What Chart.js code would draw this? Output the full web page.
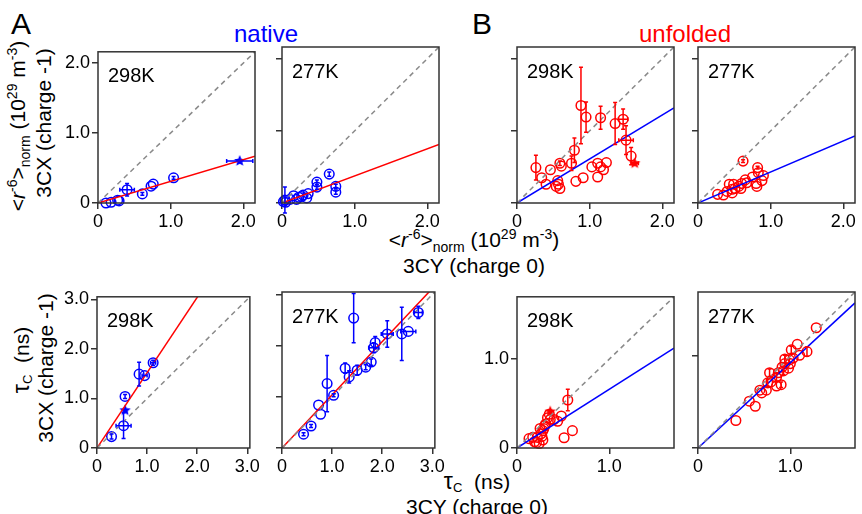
<!DOCTYPE html>
<html>
<head>
<meta charset="utf-8">
<script src="https://cdn.jsdelivr.net/npm/chart.js@4.4.1/dist/chart.umd.min.js"></script>
<style>
body{margin:0;width:862px;height:514px;background:#fff;position:relative;overflow:hidden;font-family:"Liberation Sans",Arial,sans-serif;}
canvas{position:absolute;}
.t{position:absolute;white-space:nowrap;font-size:21px;color:#000;line-height:1;transform:translate(-50%,-50%);}
.rot{transform:translate(-50%,-50%) rotate(-90deg);}
sup,sub{font-size:14px;line-height:0;}
.tau sub{font-size:13px;vertical-align:-3px;}
</style>
</head>
<body>
<div class="t" style="left:21px;top:24px;font-size:30px">A</div>
<div class="t" style="left:482px;top:24px;font-size:30px">B</div>
<div class="t" style="left:266px;top:34px;font-size:24px;color:#0000ff">native</div>
<div class="t" style="left:685px;top:34px;font-size:24px;color:#ff0000">unfolded</div>

<div class="t rot" style="left:17px;top:126px">&lt;<i>r</i><sup>-6</sup>&gt;<sub>norm</sub> (10<sup>29</sup> m<sup>-3</sup>)</div>
<div class="t rot" style="left:43px;top:123px">3CX (charge -1)</div>
<div class="t rot tau" style="left:21px;top:360px"><span style="font-size:23px">τ</span><sub>C</sub>&nbsp;&nbsp;(ns)</div>
<div class="t rot" style="left:45px;top:368px">3CX (charge -1)</div>

<div class="t" style="left:474px;top:239px">&lt;<i>r</i><sup>-6</sup>&gt;<sub>norm</sub> (10<sup>29</sup> m<sup>-3</sup>)</div>
<div class="t" style="left:474px;top:265px">3CY (charge 0)</div>
<div class="t tau" style="left:477px;top:481px"><span style="font-size:23px">τ</span><sub>C</sub>&nbsp;&nbsp;(ns)</div>
<div class="t" style="left:477px;top:506px">3CY (charge 0)</div>

<script>
// ranges and tick labels
const r6Max = 2.16, tauNatMax = 3.05, tauUnfMax = 1.7;
const r6Ticks = [0, 1, 2];
const tauNatTicks = [0, 1, 2, 3];
const tauUnfTicks = [0, 1];

// native 298K, <r-6>
const nat298RX = [0.11, 0.18, 0.27, 0.29, 0.40, 0.61, 0.73, 0.76, 1.04];
const nat298RY = [0.00, 0.01, 0.04, 0.03, 0.19, 0.13, 0.24, 0.27, 0.36];
const nat298RErr = [[4, 0.10, 0.09], [5, 0, 0.02], [8, 0, 0.02]];
const nat298RStar = [1.95, 0.60, 0.18, 0];
const nat298RSlope = 0.31;

// native 277K, <r-6>
const nat277RX = [0.65, 0.48, 0.48, 0.74, 0.74, 0.36, 0.29, 0.27, 0.34, 0.16, 0.11, 0.04, 0.02, 0.05, 0.20, 0.23];
const nat277RY = [0.40, 0.29, 0.22, 0.23, 0.15, 0.13, 0.11, 0.09, 0.07, 0.10, 0.05, 0.04, 0.02, 0.01, 0.05, 0.08];
const nat277RErr = [[11, 0, 0.18], [0, 0, 0.03], [1, 0, 0.03], [2, 0, 0.03], [3, 0, 0.03], [4, 0, 0.03]];
const nat277RSlope = 0.376;

// unfolded 298K, <r-6>
const unf298RX = [0.88, 0.95, 1.15, 1.46, 1.35, 1.50, 1.57, 0.79, 0.75, 0.59, 0.61, 0.46, 0.26, 0.34, 0.40, 0.56, 0.57, 0.54, 0.59, 0.81, 0.91, 1.03, 1.11, 1.15, 1.23, 1.19, 1.11];
const unf298RY = [1.35, 1.19, 1.18, 1.16, 1.10, 0.87, 0.65, 0.73, 0.55, 0.55, 0.51, 0.46, 0.49, 0.35, 0.26, 0.31, 0.26, 0.23, 0.20, 0.30, 0.35, 0.50, 0.55, 0.50, 0.56, 0.46, 0.36];
const unf298RErr = [[0, 0, 0.53], [1, 0, 0.21], [2, 0, 0.16], [3, 0.065, 0.14], [4, 0, 0.29], [5, 0.1, 0.2], [6, 0, 0.12], [7, 0, 0.17], [8, 0, 0.1], [12, 0, 0.17], [9, 0, 0.03]];
const unf298RStar = [1.62, 0.55, 0.05, 0];
const unf298RSlope = 0.61;

// unfolded 277K, <r-6>
const unf277RX = [0.62, 0.82, 0.75, 0.90, 0.83, 0.88, 0.80, 0.81, 0.67, 0.60, 0.56, 0.49, 0.43, 0.47, 0.51, 0.59, 0.40, 0.35, 0.27, 0.47, 0.65];
const unf277RY = [0.58, 0.49, 0.36, 0.38, 0.42, 0.31, 0.27, 0.23, 0.28, 0.27, 0.23, 0.26, 0.26, 0.19, 0.20, 0.20, 0.16, 0.11, 0.12, 0.14, 0.32];
const unf277RErr = [[0, 0, 0.02], [1, 0, 0.02]];
const unf277RSlope = 0.43;

// native 298K, tauC
const nat298TX = [0.29, 0.53, 0.56, 0.84, 0.95, 1.12];
const nat298TY = [0.23, 0.45, 1.04, 1.49, 1.46, 1.72];
const nat298TErr = [[1, 0.15, 0.26], [3, 0, 0.24], [0, 0, 0.05], [2, 0, 0.04], [4, 0.05, 0], [5, 0.05, 0.05]];
const nat298TStar = [0.56, 0.76, 0, 0];
const nat298TSlope = 1.52;

// native 277K, tauC
const nat277TX = [1.43, 0.43, 0.58, 0.73, 0.77, 0.90, 1.03, 1.26, 1.34, 1.50, 1.67, 1.78, 1.83, 1.86, 2.10, 2.39, 2.52, 2.72];
const nat277TY = [2.54, 0.27, 0.43, 0.84, 0.66, 1.26, 1.03, 1.56, 1.39, 1.52, 1.58, 1.68, 1.96, 2.06, 2.23, 2.23, 2.28, 2.65];
const nat277TErr = [[0, 0, 0.48], [5, 0, 0.55], [9, 0, 0.1], [7, 0, 0.1], [8, 0, 0.12], [12, 0.1, 0.1], [13, 0, 0.12], [14, 0.12, 0.26], [15, 0, 0.52], [16, 0.15, 0], [17, 0.08, 0.12], [10, 0, 0.05], [11, 0, 0.06], [1, 0, 0.03], [2, 0, 0.03], [6, 0, 0.03]];
const nat277TSlope = 1.04;

// unfolded 298K, tauC
const unf298TX = [0.55, 0.60, 0.51, 0.48, 0.44, 0.33, 0.36, 0.30, 0.28, 0.26, 0.22, 0.17, 0.13, 0.19, 0.24, 0.28, 0.31, 0.40, 0.29, 0.25, 0.35, 0.27, 0.21];
const unf298TY = [0.54, 0.195, 0.115, 0.36, 0.30, 0.34, 0.32, 0.25, 0.195, 0.16, 0.12, 0.12, 0.105, 0.07, 0.05, 0.09, 0.27, 0.32, 0.22, 0.22, 0.38, 0.13, 0.06];
const unf298TErr = [[0, 0, 0.12]];
const unf298TStar = [0.36, 0.41, 0, 0];
const unf298TSlope = 0.66;

// unfolded 277K, tauC
const unf277TX = [0.41, 0.556, 0.62, 0.67, 0.69, 0.74, 0.755, 0.775, 0.85, 0.85, 0.87, 0.90, 0.925, 0.91, 0.98, 0.94, 0.99, 1.03, 1.01, 1.075, 1.10, 1.18, 1.28, 0.79, 1.00, 0.94];
const unf277TY = [0.30, 0.51, 0.455, 0.63, 0.60, 0.63, 0.71, 0.82, 0.675, 0.77, 0.82, 0.69, 0.84, 0.88, 0.87, 0.97, 0.96, 0.98, 1.07, 1.13, 1.01, 1.05, 1.31, 0.72, 0.92, 0.92];
const unf277TErr = [[6, 0, 0.04], [7, 0, 0.04], [9, 0, 0.04], [12, 0, 0.04], [15, 0, 0.04], [18, 0, 0.04], [21, 0, 0.05], [11, 0, 0.03]];
const unf277TSlope = 0.93;

const BLUE = '#0000ff', RED = '#ff0000';
const PAD_L = 45, PAD_T = 8, PAD_R = 8, PAD_B = 30, BOX_W = 157, BOX_H = 156;
const tickFont = {family: '"Liberation Sans", Arial, sans-serif', size: 18};

function starImg(color, r) {
    const c = document.createElement('canvas');
    c.width = c.height = 2 * r + 2;
    const g = c.getContext('2d');
    g.beginPath();
    for (let k = 0; k < 10; k++) {
        const rr = k % 2 ? r * 0.45 : r;
        const a = -Math.PI / 2 + k * Math.PI / 5;
        g.lineTo(r + 1 + rr * Math.cos(a), r + 1 + rr * Math.sin(a));
    }
    g.closePath();
    g.fillStyle = color;
    g.fill();
    return c;
}

// error bars, drawn through the scales
const errBars = {
    id: 'errBars',
    afterDatasetsDraw(chart) {
        const {ctx, scales: {x, y}} = chart;
        chart.data.datasets.forEach(ds => {
            if (!ds.errs) return;
            ctx.save();
            ctx.strokeStyle = ds.errColor;
            ctx.lineWidth = 1.5;
            ds.errs.forEach(([i, ex, ey]) => {
                const p = ds.data[i];
                const px = x.getPixelForValue(p.x), py = y.getPixelForValue(p.y);
                ctx.beginPath();
                if (ey) {
                    const y1 = y.getPixelForValue(p.y - ey), y2 = y.getPixelForValue(p.y + ey);
                    ctx.moveTo(px, y1); ctx.lineTo(px, y2);
                    ctx.moveTo(px - 2, y1); ctx.lineTo(px + 2, y1);
                    ctx.moveTo(px - 2, y2); ctx.lineTo(px + 2, y2);
                }
                if (ex) {
                    const x1 = x.getPixelForValue(p.x - ex), x2 = x.getPixelForValue(p.x + ex);
                    ctx.moveTo(x1, py); ctx.lineTo(x2, py);
                    ctx.moveTo(x1, py - 2); ctx.lineTo(x1, py + 2);
                    ctx.moveTo(x2, py - 2); ctx.lineTo(x2, py + 2);
                }
                ctx.stroke();
            });
            ctx.restore();
        });
    }
};

// frame around the plot + temperature label
const frame = {
    id: 'frame',
    afterDraw(chart, args, opts) {
        const {ctx, chartArea: a} = chart;
        ctx.save();
        ctx.strokeStyle = '#333';
        ctx.lineWidth = 1.5;
        ctx.strokeRect(a.left, a.top, a.right - a.left, a.bottom - a.top);
        ctx.fillStyle = '#000';
        ctx.font = '20px "Liberation Sans", Arial, sans-serif';
        ctx.textBaseline = 'middle';
        ctx.fillText(opts.label, a.left + 10, a.top + 25);
        ctx.restore();
    }
};

const fmt = v => v === 0 ? '0' : v.toFixed(1);

function axis(max, tickVals, showLabels, horizontal) {
    return {
        type: 'linear', min: 0, max: max,
        afterBuildTicks: s => { s.ticks = tickVals.map(v => ({value: v})); },
        afterFit: s => { if (horizontal) s.height = PAD_B; else s.width = PAD_L; },
        grid: {drawOnChartArea: false, tickLength: 6, color: '#333', lineWidth: 1.5},
        border: {display: false},
        ticks: {display: showLabels, font: tickFont, color: '#000', padding: 2, callback: fmt, maxRotation: 0, autoSkip: false}
    };
}

function panel(left, top, label, xs, ys, errs, star, slope, max, tickVals, showY, color, fitColor) {
    const cv = document.createElement('canvas');
    cv.width = PAD_L + BOX_W + PAD_R;
    cv.height = PAD_T + BOX_H + PAD_B;
    cv.style.left = (left - PAD_L) + 'px';
    cv.style.top = (top - PAD_T) + 'px';
    document.body.appendChild(cv);

    const datasets = [
        {type: 'line', data: [{x: 0, y: 0}, {x: max, y: max}], borderColor: '#8a8a8a', borderDash: [5, 4], borderWidth: 1.5, pointRadius: 0},
        {type: 'line', data: [{x: 0, y: 0}, {x: max, y: slope * max}], borderColor: fitColor, borderWidth: 1.5, pointRadius: 0},
        {data: xs.map((x, i) => ({x: x, y: ys[i]})), pointStyle: 'circle', pointRadius: 4.8,
            borderColor: color, borderWidth: 1.5, backgroundColor: 'rgba(0,0,0,0)', errs: errs, errColor: color, clip: false}
    ];
    if (star) {
        datasets.push({data: [{x: star[0], y: star[1]}], pointStyle: starImg(color, 6), pointRadius: 6,
            errs: [[0, star[2], star[3]]], errColor: color, clip: false});
    }

    new Chart(cv.getContext('2d'), {
        type: 'scatter',
        data: {datasets: datasets},
        options: {
            responsive: false, animation: false, events: [],
            layout: {padding: {top: PAD_T, right: PAD_R, left: 0, bottom: 0}},
            plugins: {legend: {display: false}, tooltip: {enabled: false}, frame: {label: label}},
            scales: {
                x: axis(max, tickVals, true, true),
                y: axis(max, tickVals, showY, false)
            }
        },
        plugins: [errBars, frame]
    });
}

panel(98, 47, '298K', nat298RX, nat298RY, nat298RErr, nat298RStar, nat298RSlope, r6Max, r6Ticks, true, BLUE, RED);
panel(282, 47, '277K', nat277RX, nat277RY, nat277RErr, null, nat277RSlope, r6Max, r6Ticks, false, BLUE, RED);
panel(517, 47, '298K', unf298RX, unf298RY, unf298RErr, unf298RStar, unf298RSlope, r6Max, r6Ticks, false, RED, BLUE);
panel(698, 47, '277K', unf277RX, unf277RY, unf277RErr, null, unf277RSlope, r6Max, r6Ticks, false, RED, BLUE);

panel(97, 292, '298K', nat298TX, nat298TY, nat298TErr, nat298TStar, nat298TSlope, tauNatMax, tauNatTicks, true, BLUE, RED);
panel(282, 292, '277K', nat277TX, nat277TY, nat277TErr, null, nat277TSlope, tauNatMax, tauNatTicks, false, BLUE, RED);
panel(517, 292, '298K', unf298TX, unf298TY, unf298TErr, unf298TStar, unf298TSlope, tauUnfMax, tauUnfTicks, true, RED, BLUE);
panel(698, 292, '277K', unf277TX, unf277TY, unf277TErr, null, unf277TSlope, tauUnfMax, tauUnfTicks, false, RED, BLUE);
</script>
</body>
</html>
